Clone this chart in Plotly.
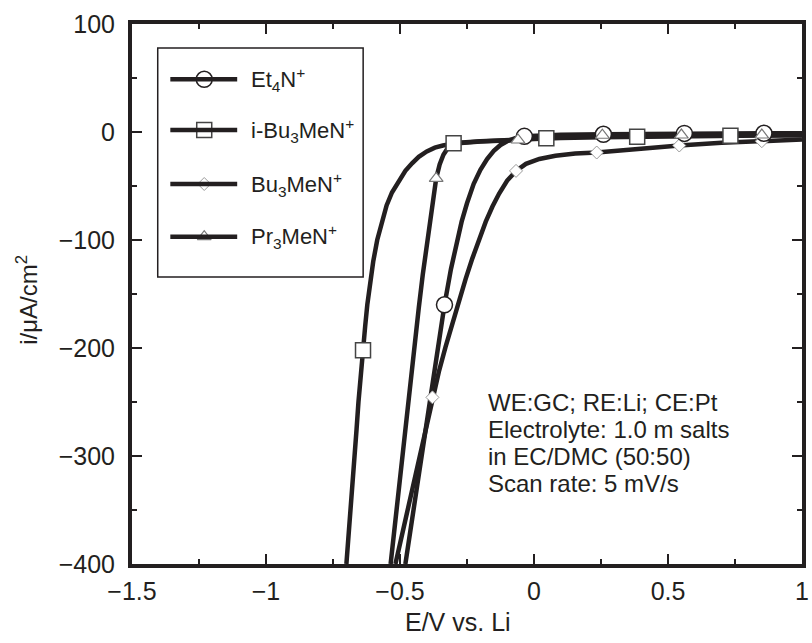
import plotly.graph_objects as go

# ---- linear sweep curves: potential E (V vs. Li) and current density i (uA/cm2) ----
et4n_E = [-0.480, -0.460, -0.440, -0.420, -0.400, -0.380, -0.360, -0.334, -0.310, -0.290,
          -0.270, -0.250, -0.225, -0.200, -0.175, -0.150, -0.125, -0.100, -0.070, -0.036,
          0.000, 0.100, 0.259, 0.400, 0.561, 0.700, 0.858, 1.000]
et4n_i = [-400, -367, -334, -301, -268, -235, -202, -160, -127, -103,
          -83, -66, -48, -35, -25, -17.5, -12, -8.5, -5.8, -4.0,
          -3.4, -2.6, -2.1, -1.7, -1.3, -1.2, -1.2, -1.1]
et4n_mark_E = [-0.334, -0.036, 0.259, 0.561, 0.858]
et4n_mark_i = [-160, -4.0, -2.1, -1.3, -1.2]

ibu_E = [-0.700, -0.690, -0.680, -0.672, -0.662, -0.655, -0.648, -0.640, -0.630, -0.622,
         -0.612, -0.600, -0.585, -0.568, -0.550, -0.530, -0.505, -0.480, -0.455, -0.430,
         -0.400, -0.370, -0.340, -0.310, -0.280, -0.200, -0.100, 0.000, 0.100, 0.250,
         0.400, 0.550, 0.700, 0.850, 1.000]
ibu_i = [-400, -370, -335, -305, -275, -250, -228, -205, -180, -160,
         -140, -120, -100, -83, -68, -56, -45, -36, -29, -23,
         -18, -14.5, -12.5, -11, -10, -8.5, -7.3, -6.2, -5.5, -4.8,
         -4.3, -3.9, -3.5, -3.2, -3.0]
ibu_mark_E = [-0.638, -0.300, 0.046, 0.385, 0.733]
ibu_mark_i = [-202, -10.5, -5.8, -4.3, -3.4]

bu3_E = [-0.517, -0.500, -0.480, -0.460, -0.440, -0.420, -0.400, -0.379, -0.355, -0.330,
         -0.305, -0.280, -0.255, -0.230, -0.205, -0.180, -0.155, -0.130, -0.100, -0.067,
         -0.030, 0.020, 0.080, 0.154, 0.234, 0.400, 0.542, 0.700, 0.850, 1.000]
bu3_i = [-400, -381, -358, -336, -313, -290, -268, -245.7, -222, -199,
         -177, -156, -136, -117, -99, -83, -69, -57, -45, -36,
         -29.5, -25, -22, -20, -19, -15, -12.5, -10, -8.5, -7]
bu3_mark_E = [-0.379, -0.067, 0.234, 0.542, 0.850]
bu3_mark_i = [-245.7, -36, -19, -12.5, -8.5]

pr3_E = [-0.535, -0.520, -0.505, -0.490, -0.475, -0.460, -0.445, -0.430, -0.415, -0.400,
         -0.388, -0.376, -0.365, -0.352, -0.338, -0.322, -0.305, -0.285, -0.250, -0.200,
         -0.130, -0.060, 0.050, 0.250, 0.550, 0.850, 1.000]
pr3_i = [-400, -365, -330, -296, -262, -228, -195, -163, -132, -104,
         -80, -60, -43, -30, -21, -15, -12, -10.5, -9.5, -8.8,
         -8.0, -7.4, -5.0, -3.0, -2.8, -2.8, -2.8]
pr3_mark_E = [-0.365, -0.060, 0.255, 0.550, 0.850]
pr3_mark_i = [-43, -7.4, -3.0, -2.8, -2.8]

legend_labels = ["Et<sub>4</sub>N<sup>+</sup>", "i-Bu<sub>3</sub>MeN<sup>+</sup>",
                 "Bu<sub>3</sub>MeN<sup>+</sup>", "Pr<sub>3</sub>MeN<sup>+</sup>"]

notes = ["WE:GC; RE:Li; CE:Pt", "Electrolyte: 1.0 m salts",
         "in EC/DMC (50:50)", "Scan rate: 5 mV/s"]

x_title = "E/V vs. Li"
y_title = "i/μA/cm<sup>2</sup>"

INK = "#231f20"
FONT = "Liberation Sans, Arial, Helvetica, sans-serif"

marker_styles = [
    dict(symbol="circle", size=16, color="white", line=dict(color=INK, width=1.5)),
    dict(symbol="square", size=15, color="white", line=dict(color="#444444", width=1.5)),
    dict(symbol="diamond", size=10, color="white", line=dict(color="#9a9a9a", width=1)),
    dict(symbol="triangle-up", size=12, color="white", line=dict(color="#777777", width=1.2)),
]

series = [
    (et4n_E, et4n_i, et4n_mark_E, et4n_mark_i),
    (ibu_E, ibu_i, ibu_mark_E, ibu_mark_i),
    (bu3_E, bu3_i, bu3_mark_E, bu3_mark_i),
    (pr3_E, pr3_i, pr3_mark_E, pr3_mark_i),
]

fig = go.Figure()

# curves first, then the sparse markers on top of them
for E, i, _, _ in series:
    fig.add_trace(go.Scatter(x=E, y=i, mode="lines", line=dict(color=INK, width=4.5),
                             hoverinfo="skip", showlegend=False))
for k in [2, 1, 0, 3]:
    _, _, mE, mi = series[k]
    fig.add_trace(go.Scatter(x=mE, y=mi, mode="markers", marker=marker_styles[k],
                             hoverinfo="skip", showlegend=False))

# ---- hand-drawn key (paper fractions of the plot area) ----
key_left, key_right, key_top, key_bottom = 0.0384, 0.345, 0.9556, 0.5315
key_rows = [0.8976, 0.8037, 0.7037, 0.6061]
seg_x0, seg_x1, seg_mid, text_x = 0.0572, 0.157, 0.1078, 0.1743

shapes = [dict(type="rect", xref="paper", yref="paper", x0=key_left, x1=key_right,
               y0=key_bottom, y1=key_top, line=dict(color=INK, width=1.5),
               fillcolor="white", layer="below")]
annotations = []
for k, yy in enumerate(key_rows):
    shapes.append(dict(type="line", xref="paper", yref="paper", x0=seg_x0, x1=seg_x1,
                       y0=yy, y1=yy, line=dict(color=INK, width=4.5)))
    fig.add_trace(go.Scatter(x=[seg_mid], y=[yy], xaxis="x2", yaxis="y2", mode="markers",
                             marker=marker_styles[k], hoverinfo="skip", showlegend=False))
    annotations.append(dict(xref="paper", yref="paper", x=text_x, y=yy, text=legend_labels[k],
                            showarrow=False, xanchor="left", yanchor="middle",
                            font=dict(size=22, family=FONT, color=INK)))

# experimental conditions block
for yy, line in zip([0.300, 0.250, 0.200, 0.150], notes):
    annotations.append(dict(xref="paper", yref="paper", x=0.529, y=yy, text=line,
                            showarrow=False, xanchor="left", yanchor="middle",
                            font=dict(size=24, family=FONT, color=INK)))

# axis titles
annotations.append(dict(xref="paper", yref="paper", x=0.486, y=-0.108, text=x_title,
                        showarrow=False, xanchor="center", yanchor="middle",
                        font=dict(size=25, family=FONT, color=INK)))
annotations.append(dict(xref="paper", yref="paper", x=-0.157, y=0.489, text=y_title,
                        showarrow=False, xanchor="center", yanchor="middle", textangle=-90,
                        font=dict(size=24, family=FONT, color=INK)))

axis_common = dict(showgrid=False, zeroline=False, showline=True, linewidth=4,
                   linecolor=INK, mirror="allticks", ticks="inside", ticklen=10,
                   tickwidth=2, tickcolor=INK, tickfont=dict(size=25, family=FONT, color=INK))

fig.update_layout(
    width=812, height=643,
    margin=dict(l=132, r=3, t=24, b=79),
    paper_bgcolor="white", plot_bgcolor="white",
    showlegend=False,
    font=dict(family=FONT, color=INK, size=24),
    xaxis=dict(range=[-1.5, 1.0], tickvals=[-1.5, -1, -0.5, 0, 0.5, 1],
               minor=dict(dtick=0.25, tick0=0, ticks="inside", ticklen=5, tickwidth=2,
                          tickcolor=INK),
               ticklabelstandoff=2,
               **axis_common),
    yaxis=dict(range=[-400, 100], tickvals=[-400, -300, -200, -100, 0, 100],
               minor=dict(dtick=50, tick0=0, ticks="inside", ticklen=5, tickwidth=2,
                          tickcolor=INK),
               ticklabelstandoff=8,
               **axis_common),
    xaxis2=dict(overlaying="x", range=[0, 1], visible=False),
    yaxis2=dict(overlaying="y", range=[0, 1], visible=False),
    shapes=shapes,
    annotations=annotations,
)

fig.write_html("out.html")
